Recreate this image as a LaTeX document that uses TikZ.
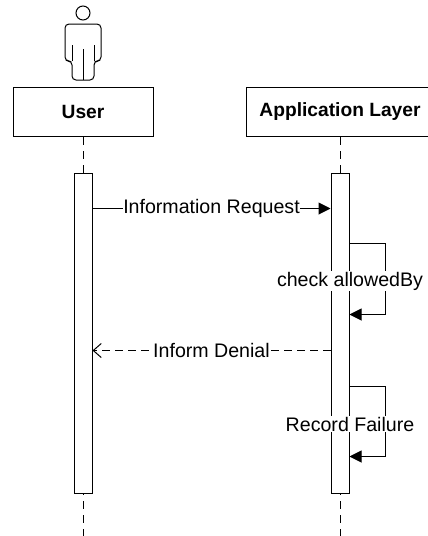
\documentclass[tikz,border=0pt]{standalone}
\usepackage{fontspec}
\setmainfont{Liberation Sans}
\usetikzlibrary{arrows.meta}
\begin{document}
\begin{tikzpicture}[x=1pt,y=-1pt,line width=1pt,
  every node/.style={font=\fontsize{19.6}{22}\selectfont},
  headbox/.style={draw,fill=white,minimum height=49.5,inner sep=0,font=\bfseries\fontsize{19.2}{22}\selectfont},
  actbar/.style={draw,fill=white,minimum width=18,minimum height=320,inner sep=0},
  life/.style={dash pattern=on 8pt off 6pt},
  msg/.style={-{Triangle[length=12pt,width=12pt]}},
  ret/.style={dash pattern=on 8pt off 5pt,-{Straight Barb[length=8pt,width=14pt]}},
  lbl/.style={fill=white,inner sep=0.5pt}]
\useasboundingbox (0,0) rectangle (428,536);
% actor
\node[draw,circle,minimum size=14,inner sep=0] (head) at (83,13) {};
\draw[rounded corners=4pt] (72,80) -- (72,61) -- (65,61) -- (65,24) -- (101,24) -- (101,61) -- (94,61) -- (94,80) -- cycle;
\draw (72,61) -- (72,45) (94,61) -- (94,45) (83,49) -- (83,80);
% heads
\node[headbox,minimum width=140] (user) at (83,112) {User};
\node[headbox,minimum width=188] (app) at (340,112) {Application Layer};
\coordinate (uend) at (83,536);
\coordinate (aend) at (340,536);
\draw[life] (user.south) -- (uend);
\draw[life] (app.south) -- (aend);
% activation bars
\node[actbar] (ua) at (83,333) {};
\node[actbar] (aa) at (340,333) {};
% messages
\path (ua.north east) ++(0,36) coordinate (m1a);
\path (aa.north west) ++(0,36) coordinate (m1b);
\draw[msg] (m1a) -- node[lbl] (l1) {Information Request} (m1b);
\path (aa.north east) ++(0,71) coordinate (s1a);
\path (aa.north east) ++(0,142) coordinate (s1b);
\draw[msg] (s1a) -- ++(36,0) -- ++(0,71) -- (s1b);
\node[lbl] (l2) at (350,281) {check allowedBy};
\path (aa.north west) ++(0,178) coordinate (m2a);
\path (ua.north east) ++(0,178) coordinate (m2b);
\draw[ret] (m2a) -- node[lbl] (l3) {Inform Denial} (m2b);
\path (aa.north east) ++(0,214) coordinate (s2a);
\path (aa.north east) ++(0,284) coordinate (s2b);
\draw[msg] (s2a) -- ++(36,0) -- ++(0,70) -- (s2b);
\node[lbl] (l4) at (350,424) {Record Failure};
\end{tikzpicture}
\end{document}
